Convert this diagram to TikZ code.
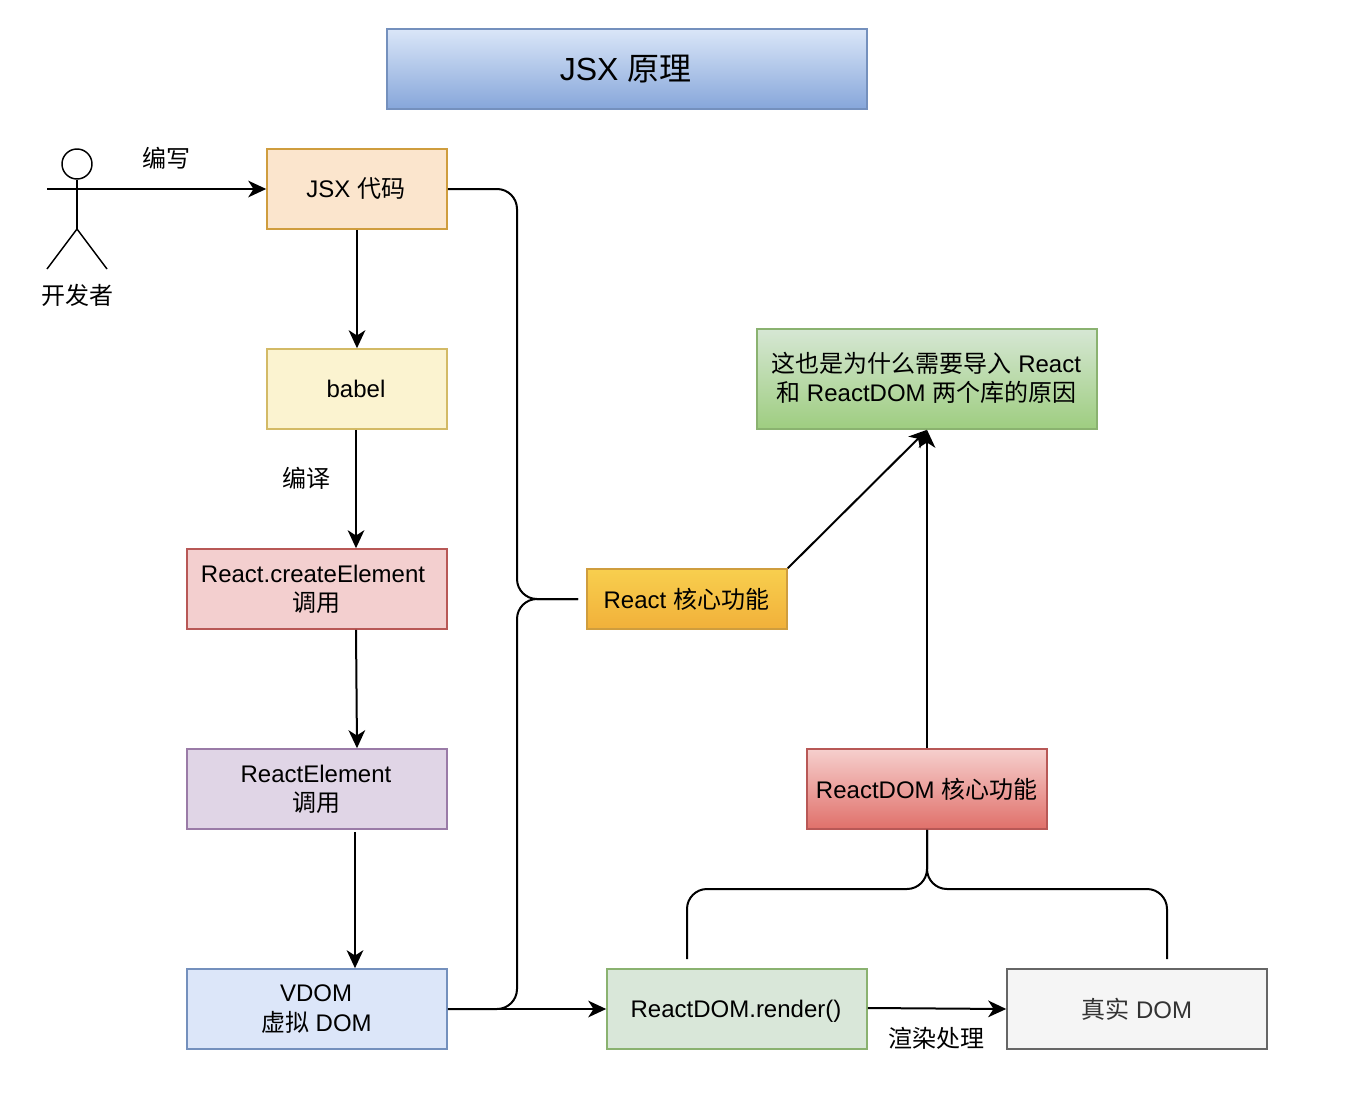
\documentclass[tikz,border=0pt]{standalone}
\usepackage{fontspec}
\setmainfont{Liberation Sans}
\newfontfamily\cjk{Noto Sans CJK SC}
\newcommand{\zh}[1]{{\cjk #1}}
\newcommand{\lft}[1]{\kern #1pt\relax}
\usetikzlibrary{arrows.meta,calc}
\tikzset{
  x=0.75pt,y=-0.75pt,
  conn/.style={line width=1.5pt,black,-{Stealth[length=13.5pt,width=12.5pt,inset=4pt]}},
  plainconn/.style={line width=1.5pt,black,rounded corners=15pt},
  boxnode/.style={rectangle,line width=1.2pt,inner sep=0pt,align=center,font=\fontsize{18}{22}\selectfont,text=black},
  lbl/.style={inner sep=0pt,font=\fontsize{18}{22}\selectfont,text=black},
  orangeb/.style={boxnode,fill={rgb,255:red,251;green,229;blue,205},draw={rgb,255:red,207;green,157;blue,62}},
  yellowb/.style={boxnode,fill={rgb,255:red,251;green,243;blue,208},draw={rgb,255:red,211;green,186;blue,102}},
  redb/.style={boxnode,fill={rgb,255:red,243;green,207;blue,207},draw={rgb,255:red,184;green,88;blue,86}},
  purpleb/.style={boxnode,fill={rgb,255:red,224;green,213;blue,230},draw={rgb,255:red,154;green,123;blue,167}},
  blueb/.style={boxnode,fill={rgb,255:red,220;green,230;blue,249},draw={rgb,255:red,116;green,144;blue,189}},
  greenb/.style={boxnode,fill={rgb,255:red,217;green,231;blue,217},draw={rgb,255:red,138;green,178;blue,112}},
  greyb/.style={boxnode,fill={rgb,255:red,245;green,245;blue,245},draw={rgb,255:red,102;green,102;blue,102},text={rgb,255:red,51;green,51;blue,51}},
  titleb/.style={boxnode,top color={rgb,255:red,218;green,230;blue,248},bottom color={rgb,255:red,134;green,166;blue,218},draw={rgb,255:red,116;green,144;blue,189},font=\fontsize{24}{28}\selectfont},
  greengrad/.style={boxnode,top color={rgb,255:red,214;green,231;blue,212},bottom color={rgb,255:red,158;green,205;blue,128},draw={rgb,255:red,138;green,178;blue,112}},
  orangegrad/.style={boxnode,top color={rgb,255:red,248;green,207;blue,78},bottom color={rgb,255:red,241;green,176;blue,58},draw={rgb,255:red,207;green,157;blue,62}},
  redgrad/.style={boxnode,top color={rgb,255:red,246;green,207;blue,205},bottom color={rgb,255:red,224;green,112;blue,106},draw={rgb,255:red,184;green,88;blue,86}},
  actorline/.style={line width=1.1pt,black}
}
\begin{document}
\begin{tikzpicture}
\useasboundingbox (0,0) rectangle (1354,1096);
\fill[white] (0,0) rectangle (1354,1096);
% boxes
\node[titleb,minimum width=360pt,minimum height=60pt] (title) at (627,69) {JSX \zh{原理}\lft{2}};
\node[orangeb,minimum width=135pt,minimum height=60pt] (jsx) at (357,189) {JSX \zh{代码}\lft{2}};
\node[yellowb,minimum width=135pt,minimum height=60pt] (babel) at (357,389) {babel\lft{1.5}};
\node[redb,minimum width=195pt,minimum height=60pt] (create) at (317,589) {React.createElement\lft{6}\\\zh{调用}\lft{1.5}};
\node[purpleb,minimum width=195pt,minimum height=60pt] (rel) at (317,789) {ReactElement\lft{1.5}\\\zh{调用}\lft{1.5}};
\node[blueb,minimum width=195pt,minimum height=60pt] (vdom) at (317,1009) {VDOM\lft{1.5}\\\zh{虚拟} DOM\lft{1}};
\node[orangegrad,minimum width=150pt,minimum height=45pt] (rcore) at (687,599) {React \zh{核心功能}\lft{1}};
\node[greengrad,minimum width=255pt,minimum height=75pt] (why) at (927,379) {\zh{这也是为什么需要导入} React\lft{1}\\\zh{和} ReactDOM \zh{两个库的原因}\lft{1}\rule[-3.7pt]{0pt}{1pt}};
\node[redgrad,minimum width=180pt,minimum height=60pt] (dcore) at (927,789) {ReactDOM \zh{核心功能}\lft{0.5}};
\node[greenb,minimum width=195pt,minimum height=60pt] (render) at (737,1009) {\rule{0pt}{13pt}\smash{ReactDOM.render()}\lft{1.5}};
\node[greyb,minimum width=195pt,minimum height=60pt] (real) at (1137,1009) {\zh{真实} DOM\lft{0.5}};
% actor
\node[circle,draw,line width=1.1pt,minimum size=22.5pt,inner sep=0pt] (head) at (77,164) {};
\coordinate (hip) at (77,229);
\coordinate (armL) at (47,189);
\coordinate (armR) at (107,189);
\coordinate (legL) at (47,269);
\coordinate (legR) at (107,269);
\draw[actorline] (head.south) -- (hip);
\draw[actorline] (armL) -- (armR);
\draw[actorline] (legL) -- (hip) -- (legR);
\node[lbl] (dev) at (77,295) {\zh{开发者}};
% labels
\node[lbl] (write) at (166,158) {\zh{编写}};
\node[lbl] (compile) at (306,478) {\zh{编译}};
\node[lbl] (paint) at (936,1038) {\zh{渲染处理}};
% connectors
\coordinate (shoulder) at (77,189);
\draw[conn] (shoulder) -- (jsx.west);
\draw[conn] (jsx.south) -- (babel.north);
\draw[conn] ($(babel.south)+(-1,0)$) -- ($(create.north)+(39,0)$);
\draw[conn] ($(create.south)+(39,0)$) -- ($(rel.north)+(40,0)$);
\draw[conn] ($(rel.south)+(38,2)$) -- ($(vdom.north)+(38,0)$);
\draw[conn] (vdom.east) -- (render.west);
\draw[conn] ($(render.east)+(0,-1)$) -- (real.west);
\draw[conn] (dcore.north) -- (why.south);
\draw[conn] (rcore.north east) -- (why.south);
% braces
\coordinate (tipL) at (578,599);
\coordinate (spineTop) at (517,189);
\coordinate (spineMid) at (517,599);
\coordinate (spineBot) at (517,1009);
\draw[plainconn] (jsx.east) -- (spineTop) -- (spineMid) -- (tipL);
\draw[plainconn] (vdom.east) -- (spineBot) -- (spineMid) -- (tipL);
\coordinate (fork) at (927,889);
\coordinate (forkL) at (687,889);
\coordinate (forkR) at (1167,889);
\coordinate (endL) at (687,959);
\coordinate (endR) at (1167,959);
\draw[plainconn] (dcore.south) -- (fork) -- (forkL) -- (endL);
\draw[plainconn] (dcore.south) -- (fork) -- (forkR) -- (endR);
\end{tikzpicture}
\end{document}
